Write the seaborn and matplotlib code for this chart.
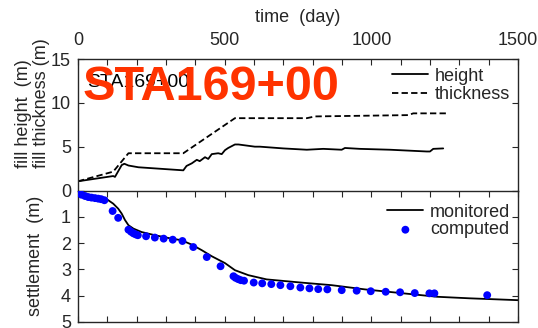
import matplotlib
matplotlib.use("Agg")
import matplotlib.pyplot as plt
import seaborn as sns
import numpy as np

# ---- data ----
thick_days = [0, 120, 172, 359, 535, 780, 808, 1126, 1143, 1263]
thickness = [1.05, 2.15, 4.25, 4.25, 8.25, 8.25, 8.45, 8.6, 8.8, 8.8]

height_days = [0, 120, 126, 149, 158, 172, 206, 359, 370, 388, 405, 415, 433, 444,
               456, 478, 490, 501, 512, 535, 547, 603, 620, 700, 780, 836, 899, 910,
               961, 1064, 1189, 1200, 1211, 1245]
height = [1.05, 1.65, 1.55, 2.9, 3.05, 2.85, 2.65, 2.3, 2.8, 3.1, 3.5, 3.35, 3.8, 3.6,
          4.15, 4.25, 4.15, 4.6, 4.85, 5.25, 5.25, 5.0, 5.0, 4.8, 4.65, 4.75, 4.65, 4.85,
          4.75, 4.65, 4.45, 4.45, 4.75, 4.8]

mon_days = [0, 24, 58, 98, 120, 137, 149, 160, 172, 189, 217, 262, 319, 353, 388, 422,
            456, 501, 535, 581, 643, 760, 865, 978, 1109, 1223, 1336, 1500]
monitored = [0.0, 0.13, 0.21, 0.33, 0.5, 0.69, 0.88, 1.12, 1.32, 1.45, 1.58, 1.70, 1.83,
             1.89, 2.06, 2.27, 2.5, 2.76, 3.03, 3.22, 3.38, 3.5, 3.6, 3.76, 3.91, 4.04,
             4.10, 4.17]

comp_days = [2, 12, 24, 35, 46, 58, 69, 79, 90, 118, 137, 172, 181, 189, 197, 204, 232,
             262, 292, 323, 356, 393, 439, 486, 530, 537, 546, 555, 566, 599, 628, 659,
             690, 724, 758, 789, 819, 850, 899, 950, 998, 1049, 1098, 1148, 1198, 1215, 1395]
computed = [0.08, 0.16, 0.21, 0.25, 0.27, 0.29, 0.31, 0.33, 0.37, 0.78, 1.04, 1.49, 1.57,
            1.63, 1.67, 1.70, 1.74, 1.79, 1.83, 1.87, 1.92, 2.15, 2.53, 2.88, 3.26, 3.32,
            3.37, 3.41, 3.43, 3.50, 3.53, 3.56, 3.60, 3.64, 3.69, 3.72, 3.75, 3.76, 3.79,
            3.81, 3.83, 3.85, 3.87, 3.90, 3.91, 3.91, 3.98]

x_major = [0, 500, 1000, 1500]
station = "STA169+00"

# ---- style ----
sns.set_style("ticks")
plt.rcParams['font.family'] = ['Liberation Sans', 'DejaVu Sans']
FS = 13

W, H = 538, 328
fig = plt.figure(figsize=(W / 100, H / 100), dpi=100)

L, R = 78, 518
ax1 = fig.add_axes([L / W, 1 - 190.5 / H, (R - L) / W, 131.5 / H])
ax2 = fig.add_axes([L / W, 1 - 322 / H, (R - L) / W, 131.5 / H])

# top panel
sns.lineplot(x=height_days, y=height, ax=ax1, color='black', lw=1.3,
             sort=False, estimator=None, label='height')
sns.lineplot(x=thick_days, y=thickness, ax=ax1, color='black', lw=1.3,
             sort=False, estimator=None, label='thickness', linestyle=(0, (3.5, 1.8)))
ax1.set_xlim(0, 1500)
ax1.set_ylim(0, 15)
ax1.xaxis.tick_top()
ax1.set_xticks(x_major)
ax1.set_xticks(np.arange(0, 1501, 100), minor=True)
ax1.set_yticks([0, 5, 10, 15])
ax1.set_yticklabels(['', '5', '10', '15'])
ax1.tick_params(axis='x', which='both', direction='in', top=True, bottom=False,
                length=4, width=0.8, labelsize=FS, pad=7)
ax1.tick_params(axis='y', which='both', direction='in', left=True, right=True,
                length=4, width=0.8, labelsize=FS, pad=5)
ax1.spines['bottom'].set_visible(False)
ax1.set_xlabel('')
ax1.set_ylabel('')
ax1.legend(loc='center right', bbox_to_anchor=(510 / W, 1 - 85.5 / H),
           bbox_transform=fig.transFigure, frameon=False, fontsize=FS,
           handlelength=2.0, handletextpad=0.35, labelspacing=0.1,
           borderpad=0, borderaxespad=0)

# bottom panel
sns.lineplot(x=mon_days, y=monitored, ax=ax2, color='black', lw=1.3,
             sort=False, estimator=None, label='monitored')
sns.scatterplot(x=comp_days, y=computed, ax=ax2, color='#0000FF', s=32,
                edgecolor='none', label='computed', zorder=3)
ax2.set_xlim(0, 1500)
ax2.set_ylim(5, 0)
ax2.set_xticks(np.arange(0, 1501, 100))
ax2.set_xticklabels([])
ax2.set_yticks([0, 1, 2, 3, 4, 5])
ax2.tick_params(axis='x', which='both', direction='in', top=True, bottom=True,
                length=4, width=0.8)
ax2.tick_params(axis='y', which='both', direction='in', left=True, right=True,
                length=4, width=0.8, labelsize=FS, pad=5)
ax2.set_xlabel('')
ax2.set_ylabel('')
ax2.legend(loc='center right', bbox_to_anchor=(510 / W, 1 - 221 / H),
           bbox_transform=fig.transFigure, frameon=False, fontsize=FS,
           handlelength=2.0, handletextpad=0.35, labelspacing=0.05,
           borderpad=0, borderaxespad=0)

for ax in (ax1, ax2):
    for sp in ax.spines.values():
        sp.set_linewidth(1.0)

# texts
fig.text(298 / W, 1 - 22 / H, 'time  (day)', ha='center', va='baseline', fontsize=FS)
fig.text(24 / W, 1 - 168 / H, 'fill height  (m)', rotation=90, ha='center',
         va='bottom', fontsize=FS)
fig.text(41 / W, 1 - 168 / H, 'fill thickness (m)', rotation=90, ha='center',
         va='bottom', fontsize=FS)
fig.text(36 / W, 1 - 256 / H, 'settlement  (m)', rotation=90, ha='center',
         va='center', fontsize=FS)
fig.text(87 / W, 1 - 87 / H, station, fontsize=14, color='black', va='baseline', zorder=5)
fig.text(83 / W, 1 - 100 / H, station, fontsize=35, fontweight='bold',
         color='#FF3300', va='baseline', zorder=6)

fig.savefig('out.png', dpi=100)
